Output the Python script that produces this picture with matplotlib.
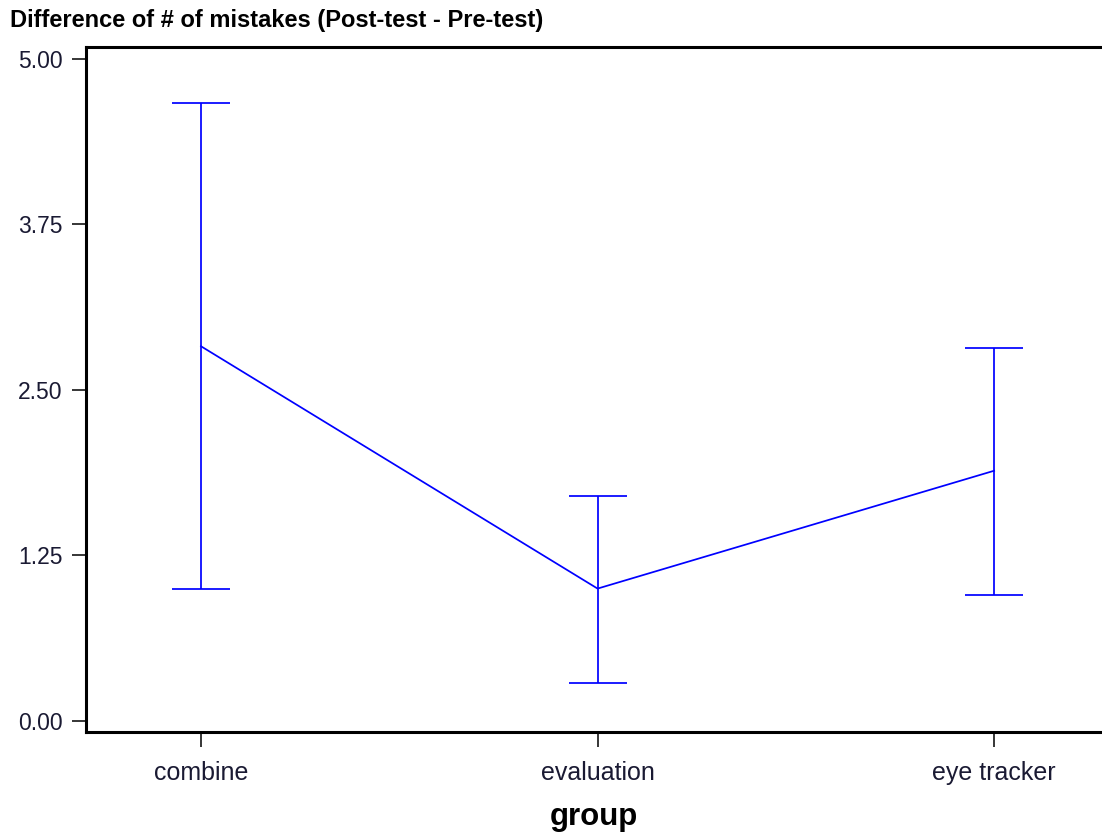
import matplotlib
matplotlib.use("Agg")
import matplotlib.pyplot as plt
import numpy as np

groups = ["combine", "evaluation", "eye tracker"]
means = [2.83, 1.00, 1.89]
upper = [4.67, 1.70, 2.82]
lower = [1.00, 0.29, 0.95]
yticks = [0.00, 1.25, 2.50, 3.75, 5.00]

plt.rcParams["font.family"] = ["Liberation Sans", "DejaVu Sans"]

W, H = 1102, 833
fig = plt.figure(figsize=(W / 100, H / 100), dpi=100)
ax = fig.add_axes([86 / W, 1 - 732 / H, (W - 86) / W, (732 - 47) / H])

x = np.arange(len(groups))
means = np.array(means)
err = [means - np.array(lower), np.array(upper) - means]

ax.errorbar(
    x, means, yerr=err, color="#0000FF", linewidth=1.25,
    elinewidth=1.25, capsize=21, capthick=1.25,
)

ax.set_xlim(-0.29, 2.272)
ax.set_ylim(-0.083, 5.09)
ax.set_xticks(x)
ax.set_xticklabels(groups)
ax.set_yticks(yticks)
ax.set_yticklabels([f"{v:.2f}" for v in yticks])

for side in ("left", "bottom", "top"):
    ax.spines[side].set_linewidth(2.2)
ax.spines["right"].set_visible(False)

ax.tick_params(axis="y", length=10, width=1.1, pad=7, labelsize=16.5)
ax.tick_params(axis="x", length=11, width=1.1, pad=10, labelsize=18)
for lab in ax.get_xticklabels() + ax.get_yticklabels():
    lab.set_color("#1a1a33")

ax.set_xlabel("group", fontsize=22.5, fontweight="bold", labelpad=12)
fig.text(10 / W, 1 - 20 / H, "Difference of # of mistakes (Post-test - Pre-test)",
         fontsize=17, fontweight="bold", va="center", ha="left")

fig.savefig("out.png", dpi=100)
